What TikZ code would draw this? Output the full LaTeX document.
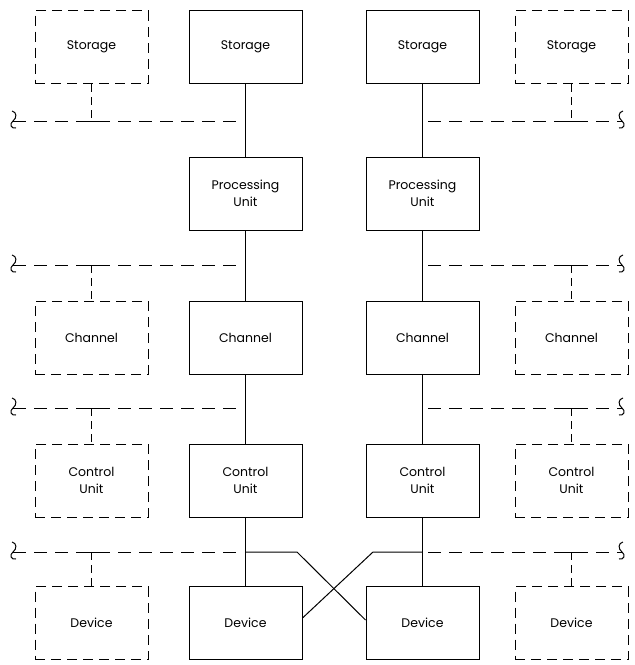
\documentclass[tikz,border=0pt]{standalone}
\usepackage{fontspec}
\setmainfont{Poppins}
\begin{document}
\begin{tikzpicture}[x=1pt,y=-1pt,
  unit/.style={draw, line width=1pt, minimum width=113pt, minimum height=73pt, align=center, font=\fontsize{12.5}{17.5}\selectfont, inner sep=0pt},
  opt/.style={unit, dash pattern=on 10pt off 6pt},
  bus/.style={line width=1pt, dash pattern=on 13pt off 8pt},
  stub/.style={line width=1pt, dash pattern=on 8pt off 5pt},
  link/.style={line width=1pt},
  brk/.style={line width=1pt}]
\useasboundingbox (0,0) rectangle (635,665);
% columns
\def\ca{91.5}\def\cb{245.5}\def\cc{422.5}\def\cd{571.5}
% storage row
\node[opt]  (s1) at (\ca,47) {Storage};
\node[unit] (s2) at (\cb,47) {Storage};
\node[unit] (s3) at (\cc,47) {Storage};
\node[opt]  (s4) at (\cd,47) {Storage};
% processing units
\node[unit] (p2) at (\cb,193.5) {Processing\\Unit};
\node[unit] (p3) at (\cc,193.5) {Processing\\Unit};
% channels
\node[opt]  (h1) at (\ca,337.5) {Channel};
\node[unit] (h2) at (\cb,337.5) {Channel};
\node[unit] (h3) at (\cc,337.5) {Channel};
\node[opt]  (h4) at (\cd,337.5) {Channel};
% control units
\node[opt]  (u1) at (\ca,480.5) {Control\\Unit};
\node[unit] (u2) at (\cb,480.5) {Control\\Unit};
\node[unit] (u3) at (\cc,480.5) {Control\\Unit};
\node[opt]  (u4) at (\cd,480.5) {Control\\Unit};
% devices
\node[opt]  (d1) at (\ca,623) {Device};
\node[unit] (d2) at (\cb,623) {Device};
\node[unit] (d3) at (\cc,623) {Device};
\node[opt]  (d4) at (\cd,623) {Device};
% solid vertical links
\foreach \a/\b in {s2/p2,p2/h2,h2/u2,u2/d2,s3/p3,p3/h3,h3/u3,u3/d3}
  \draw[link] (\a.south) -- (\b.north);
% buses with break symbols
\foreach \n/\y in {1/121,2/265,3/408,4/552}{
  \coordinate (L\n) at (13,\y);
  \coordinate (LE\n) at (240,\y);
  \coordinate (R\n) at (622,\y);
  \coordinate (RS\n) at (428,\y);
  \draw[bus] (L\n) -- (LE\n);
  \draw[bus] (RS\n) -- (R\n);
  \draw[brk, shift={(L\n)}] (-1,-10) .. controls (4,-9) and (4,-3) .. (0,0) .. controls (-4,3) and (-2,8) .. (3,7);
  \draw[brk, shift={(R\n)}, xscale=-1] (-1,-10) .. controls (4,-9) and (4,-3) .. (0,0) .. controls (-4,3) and (-2,8) .. (3,7);
}
% junction stubs from optional boxes
\coordinate (J1) at (\ca,121); \coordinate (J4) at (\cd,121);
\draw[stub] (s1.south) -- (J1);
\draw[stub] (s4.south) -- (J4);
\draw[link] ([xshift=-6pt]J1) -- ([xshift=6pt]J1);
\draw[link] ([xshift=-6pt]J4) -- ([xshift=6pt]J4);
\foreach \b/\y in {h/265,u/408,d/552}{
  \coordinate (K1) at (\ca,\y); \coordinate (K4) at (\cd,\y);
  \draw[stub] (K1) -- (\b1.north);
  \draw[stub] (K4) -- (\b4.north);
  \draw[link] ([xshift=-6pt]K1) -- ([xshift=6pt]K1);
  \draw[link] ([xshift=-6pt]K4) -- ([xshift=6pt]K4);
}
% crossing links
\coordinate (X2) at (\cb,552); \coordinate (X3) at (\cc,552);
\draw[link] (X2) -- (297,552) -- (d3.west |- 0,620);
\draw[link] (X3) -- (373,552) -- (d2.east |- 0,618);
\end{tikzpicture}
\end{document}
